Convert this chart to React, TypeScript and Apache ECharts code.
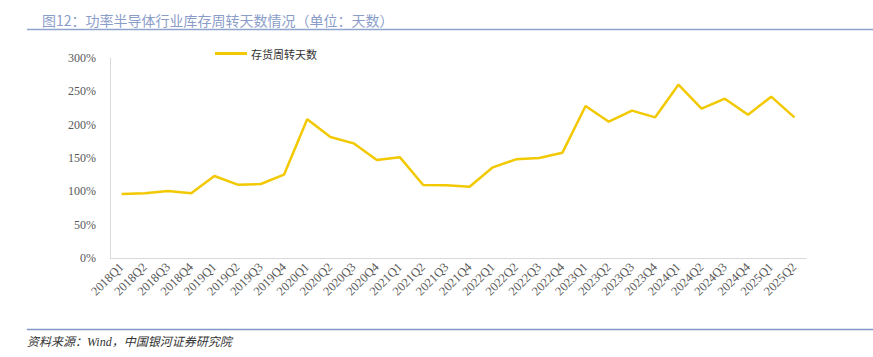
import React, { useEffect, useRef } from "react";
import * as echarts from "echarts";

const categories = [
  "2018Q1","2018Q2","2018Q3","2018Q4","2019Q1","2019Q2","2019Q3","2019Q4",
  "2020Q1","2020Q2","2020Q3","2020Q4","2021Q1","2021Q2","2021Q3","2021Q4",
  "2022Q1","2022Q2","2022Q3","2022Q4","2023Q1","2023Q2","2023Q3","2023Q4",
  "2024Q1","2024Q2","2024Q3","2024Q4","2025Q1","2025Q2",
];
const inventoryDays = [
  96, 97, 100.5, 97, 123, 110, 111, 125,
  208, 181.5, 172, 147, 151, 109.5, 109, 107,
  136, 148, 150, 158, 228, 204.5, 221, 211,
  260, 224, 239, 215, 242, 211,
];
const seriesName = "存货周转天数";
const titleText = "图12：功率半导体行业库存周转天数情况（单位：天数）";
const sourceText = "资料来源：Wind，中国银河证券研究院";

export default function App() {
  const ref = useRef<HTMLDivElement>(null);
  useEffect(() => {
    const chart = echarts.init(ref.current!, null, { renderer: "svg" });
    chart.setOption({
      animation: false,
      backgroundColor: "#ffffff",
      title: {
        text: titleText,
        left: 37,
        top: 8,
        textStyle: {
          color: "#8a9dc9",
          fontSize: 14,
          fontWeight: "normal",
          fontFamily: "Noto Sans CJK SC",
        },
      },
      graphic: [
        { type: "line", shape: { x1: 27, y1: 29.5, x2: 873, y2: 29.5 }, style: { stroke: "#8fa3cf", lineWidth: 1.5 } },
        { type: "line", shape: { x1: 27, y1: 329.5, x2: 873, y2: 329.5 }, style: { stroke: "#7f97c8", lineWidth: 1.5 } },
        {
          type: "text",
          left: 27,
          top: 336,
          style: {
            text: sourceText,
            fill: "#333333",
            fontSize: 12,
            fontStyle: "italic",
            fontFamily: "Liberation Serif, Noto Sans CJK SC",
          },
        },
      ],
      legend: {
        data: [seriesName],
        left: 210,
        top: 43,
        itemWidth: 32,
        itemHeight: 3,
        itemGap: 4,
        icon: "rect",
        textStyle: { color: "#333333", fontSize: 11, fontFamily: "Noto Sans CJK SC", padding: [0, 0, 0, -1] },
      },
      grid: { left: 110, right: 67, top: 58, bottom: 99, containLabel: false },
      xAxis: {
        type: "category",
        data: categories,
        boundaryGap: true,
        axisLine: { show: true, lineStyle: { color: "#d9d9d9", width: 1 } },
        axisTick: { show: false },
        axisLabel: {
          rotate: 45,
          interval: 0,
          color: "#595959",
          fontSize: 12.5,
          fontFamily: "Liberation Serif",
          margin: 7,
        },
      },
      yAxis: {
        type: "value",
        min: 0,
        max: 300,
        interval: 50,
        axisLine: { show: true, lineStyle: { color: "#d9d9d9", width: 1 } },
        axisTick: { show: false },
        splitLine: { show: false },
        axisLabel: {
          formatter: "{value}%",
          color: "#595959",
          fontSize: 12,
          fontFamily: "Liberation Serif",
          margin: 14,
        },
      },
      series: [
        {
          name: seriesName,
          type: "line",
          data: inventoryDays,
          symbol: "none",
          lineStyle: { color: "#f2c900", width: 2.5 },
          itemStyle: { color: "#f2c900" },
        },
      ],
    });
    return () => chart.dispose();
  }, []);
  return <div ref={ref} style={{ width: 873, height: 357, position: "absolute", left: 0, top: 0 }} />;
}
